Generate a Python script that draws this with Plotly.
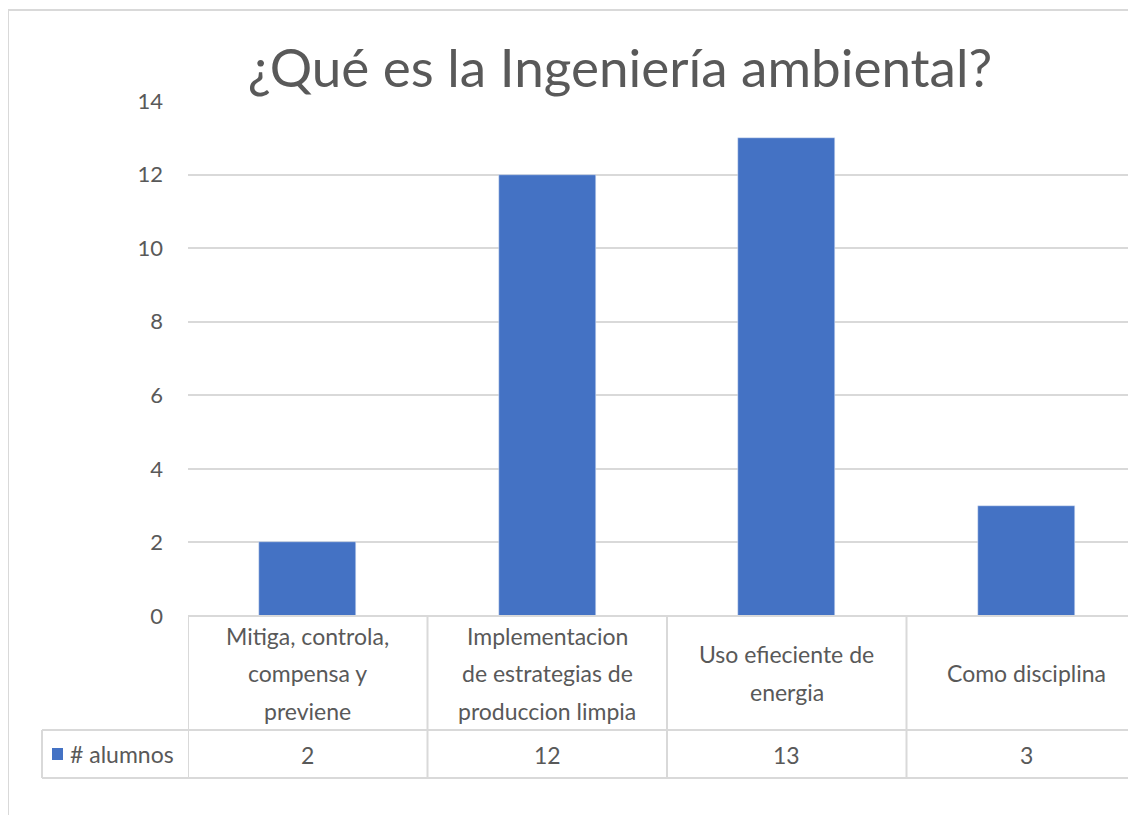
import plotly.graph_objects as go

# datos
categorias = ["Mitiga, controla,<br>compensa y<br>previene",
              "Implementacion<br>de estrategias de<br>produccion limpia",
              "Uso efieciente de<br>energia",
              "Como disciplina"]
alumnos = [2, 12, 13, 3]
serie = "# alumnos"
titulo = "¿Qué es la Ingeniería ambiental?"

AZUL = "#4472C4"
GRIS = "#595959"
LINEA = "#d9d9d9"
FUENTE = "Lato"

# la pagina deja 8px de margen alrededor de la figura
OFF = 8
W, H = 1136 - OFF, 815 - OFF
ML = 188 - OFF
MT = 101 - OFF
BOT = 616 - OFF
MB = H - BOT
PH = H - MT - MB
PW = W - ML
CAT_W = 239.5  # ancho de cada categoria en pixeles


def py(pix):
    # pixel de pantalla (vertical) -> coordenada paper
    return (BOT - (pix - OFF)) / PH


def px_(pix):
    return (pix - OFF - ML) / PW


x = list(range(len(categorias)))

fig = go.Figure()
fig.add_trace(go.Bar(x=x, y=alumnos, name=serie, marker_color=AZUL, width=0.405))

shapes = []
# marco del grafico
shapes.append(dict(type="line", xref="paper", yref="paper", x0=px_(8), x1=1.05, y0=py(10), y1=py(10),
                   line=dict(color=LINEA, width=2)))
shapes.append(dict(type="line", xref="paper", yref="paper", x0=px_(8), x1=px_(8), y0=py(10), y1=py(830),
                   line=dict(color=LINEA, width=2)))
# tabla de datos
for yy, x0 in [(616, 188), (730, 42), (778, 42)]:
    shapes.append(dict(type="line", xref="paper", yref="paper", x0=px_(x0), x1=1.05, y0=py(yy), y1=py(yy),
                       line=dict(color=LINEA, width=2)))
shapes.append(dict(type="line", xref="paper", yref="paper", x0=px_(42), x1=px_(42), y0=py(730), y1=py(778),
                   line=dict(color=LINEA, width=2)))
for i in range(len(categorias)):
    shapes.append(dict(type="line", xref="x", yref="paper", x0=i - 0.5, x1=i - 0.5, y0=py(616), y1=py(778),
                       line=dict(color=LINEA, width=2)))
# clave de leyenda
shapes.append(dict(type="rect", xref="paper", yref="paper", x0=px_(52), x1=px_(63), y0=py(760), y1=py(748),
                   fillcolor=AZUL, line=dict(width=0)))

annotations = []
for i, cat in enumerate(categorias):
    lineas = cat.split("<br>")
    n = len(lineas)
    for j, ln in enumerate(lineas):
        ypix = 673 + (j - (n - 1) / 2) * 37.5
        annotations.append(dict(x=i, y=py(ypix), xref="x", yref="paper", text=ln, showarrow=False,
                                xanchor="center", yanchor="middle", font=dict(size=23, color=GRIS)))
    annotations.append(dict(x=i, y=py(755), xref="x", yref="paper", text=str(alumnos[i]), showarrow=False,
                            xanchor="center", yanchor="middle", font=dict(size=23, color=GRIS)))
annotations.append(dict(x=px_(68), y=py(754), xref="paper", yref="paper", text=serie, showarrow=False,
                        xanchor="left", yanchor="middle", font=dict(size=23, color=GRIS)))

fig.update_layout(
    width=W, height=H,
    margin=dict(l=ML, r=0, t=MT, b=MB),
    paper_bgcolor="white", plot_bgcolor="white",
    font=dict(family=FUENTE, color=GRIS),
    title=dict(text=titulo, x=(620 - OFF) / W, xanchor="center", y=1 - (68 - OFF) / H, yanchor="middle",
               xref="container", yref="container", font=dict(size=53, color=GRIS, family=FUENTE)),
    showlegend=False,
    shapes=shapes,
    annotations=annotations,
    bargap=0,
)
# la ultima categoria queda cortada por el borde derecho
vis = PW / CAT_W
fig.update_xaxes(range=[-0.5, -0.5 + vis], showticklabels=False, showgrid=False,
                 zeroline=False, showline=False, fixedrange=True)
fig.update_yaxes(range=[0, 14], dtick=2, showgrid=True, gridcolor=LINEA, gridwidth=2, zeroline=False,
                 tickfont=dict(size=22, color=GRIS), ticklabelstandoff=24, ticks="", showline=False)

fig.write_html("out.html")
